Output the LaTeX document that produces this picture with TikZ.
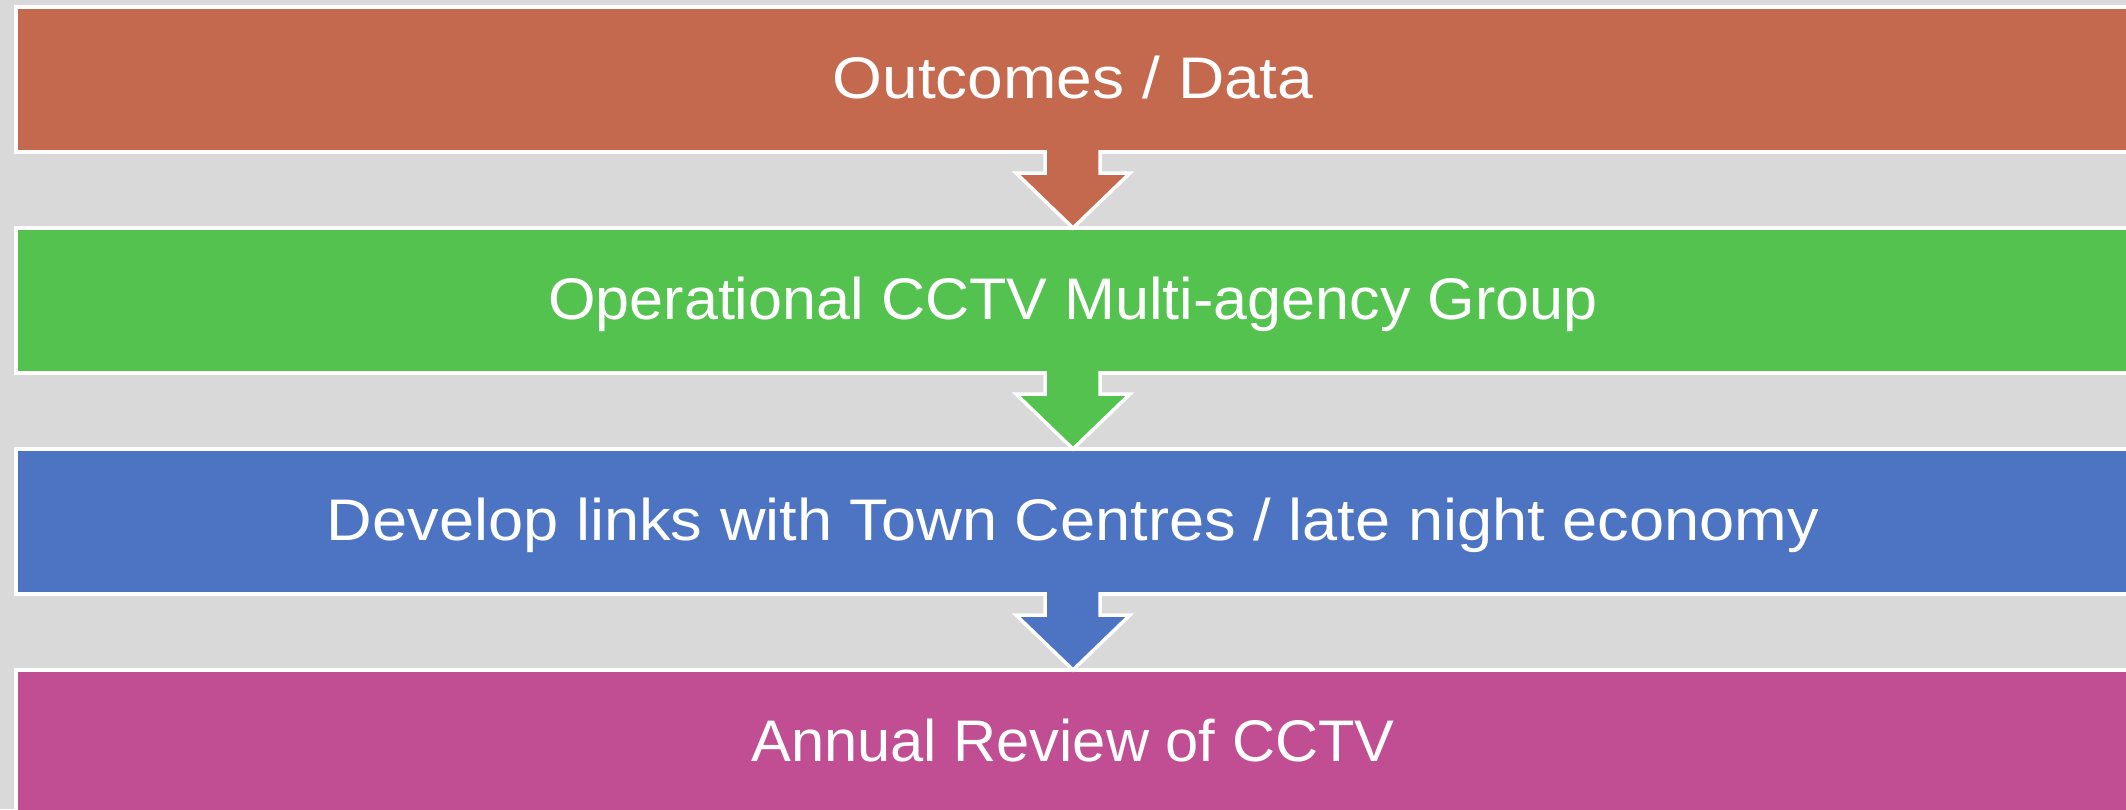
\documentclass[tikz,border=0pt]{standalone}
\usepackage{fontspec}
\setmainfont[FakeStretch=1.055]{Liberation Sans}
\usetikzlibrary{calc}
\definecolor{bgc}{HTML}{D9D9D9}
\definecolor{cbrown}{HTML}{C4694E}
\definecolor{cgreen}{HTML}{54C24E}
\definecolor{cblue}{HTML}{4C74C2}
\definecolor{cpink}{HTML}{C14E92}
\tikzset{
  stage/.style={draw=white, line width=4pt, minimum width=2114pt, minimum height=145pt,
    inner sep=0pt, outer sep=0pt, anchor=north west, text=white,
    font=\fontsize{58.7}{70}\selectfont, text height=42pt, text depth=4pt},
  arrowline/.style={draw=white, line width=3.5pt, line join=miter},
}
\newcommand{\downarrowshape}[3]{%
  \fill[#3] ($(#1.south)+(-28,-2)$) -- ($(#1.south)+(-28,21)$) -- ($(#1.south)+(-57,21)$)
    -- (#2.north) -- ($(#1.south)+(57,21)$) -- ($(#1.south)+(27,21)$) -- ($(#1.south)+(27,-2)$) -- cycle;
  \draw[arrowline] ($(#1.south)+(-28,-2)$) -- ($(#1.south)+(-28,21)$) -- ($(#1.south)+(-57,21)$)
    -- (#2.north) -- ($(#1.south)+(57,21)$) -- ($(#1.south)+(27,21)$) -- ($(#1.south)+(27,-2)$);
}
\begin{document}
\begin{tikzpicture}[x=1pt,y=-1pt]
\useasboundingbox (0,0) rectangle (2126,809);
\fill[bgc] (0,0) rectangle (2126,809);
\node[stage, fill=cbrown] (b1) at (16,7) {\scalebox{1.035}[1]{Outcomes / Data}};
\node[stage, fill=cgreen] (b2) at (16,228) {\scalebox{0.987}[1]{Operational CCTV Multi-agency Group}};
\node[stage, fill=cblue] (b3) at (16,449) {\scalebox{1.02}[1]{Develop links with Town Centres / late night economy}};
\node[stage, fill=cpink] (b4) at (16,670) {\scalebox{0.963}[1]{Annual Review of CCTV}};
\downarrowshape{b1}{b2}{cbrown}
\downarrowshape{b2}{b3}{cgreen}
\downarrowshape{b3}{b4}{cblue}
\end{tikzpicture}
\end{document}
